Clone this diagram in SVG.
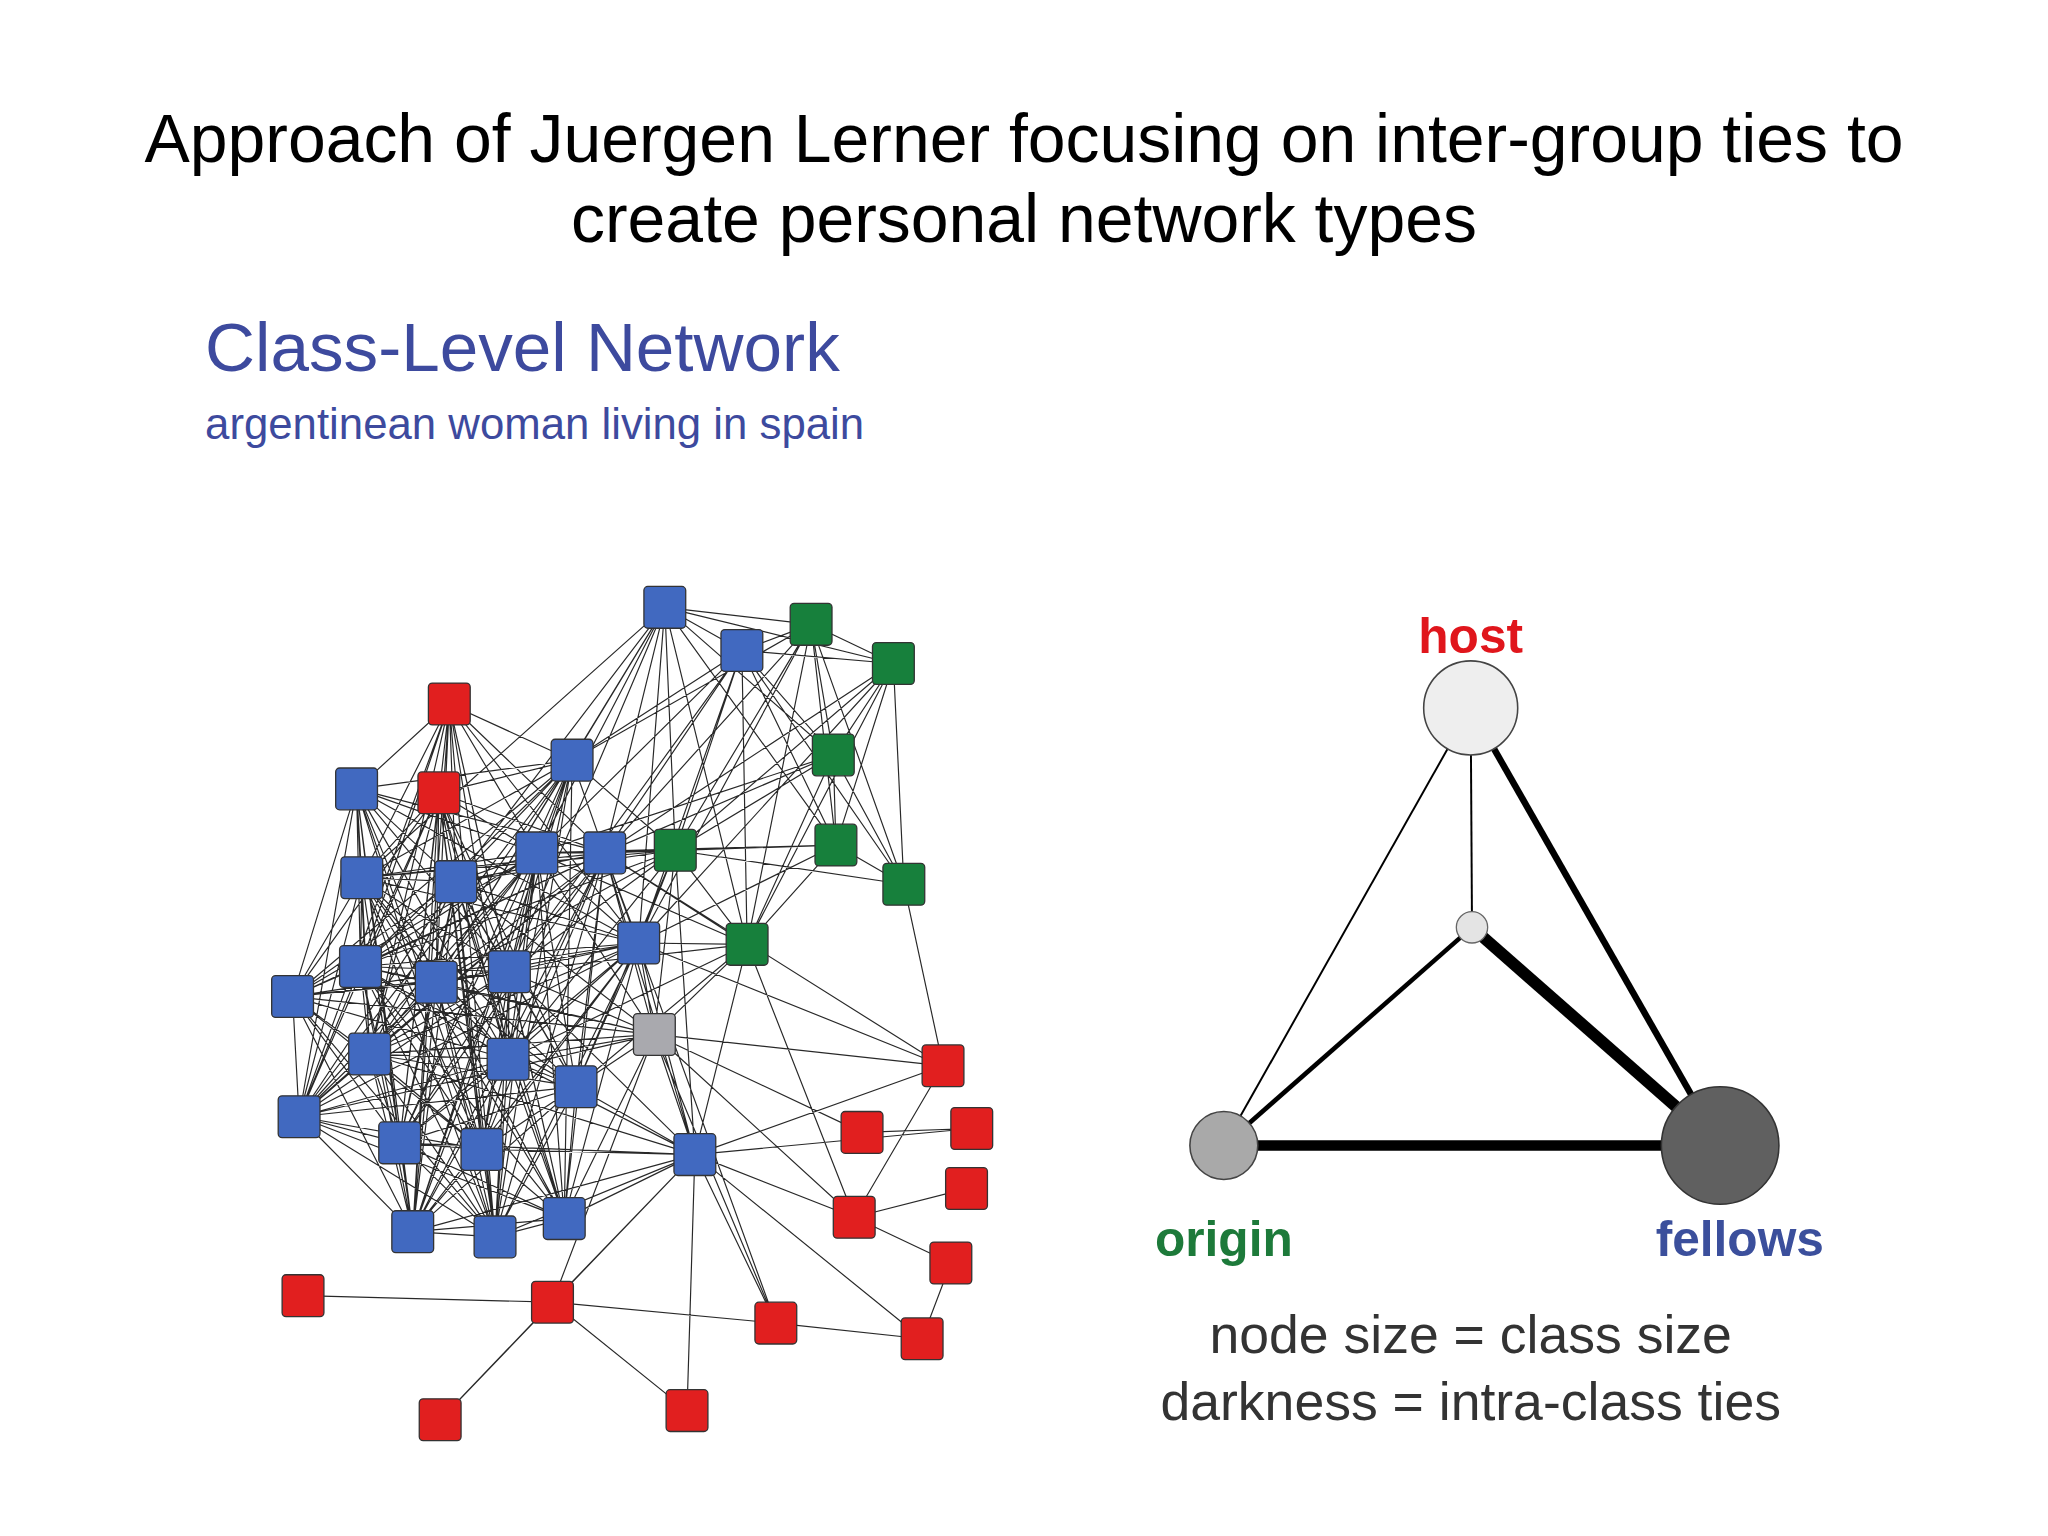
<svg xmlns="http://www.w3.org/2000/svg" width="2048" height="1536" viewBox="0 0 2048 1536">
<style>
.t{font-family:"Liberation Sans",Arial,sans-serif}
.b rect,.g rect,.r rect,.x rect{width:32px;height:32px;rx:3px;stroke:#333;stroke-width:1}
.b rect{fill:#4169c0}.g rect{fill:#17803c}.r rect{fill:#e11f1f}.x rect{fill:#a9a9ae}
.e{fill:none;stroke:#111;stroke-width:0.9;stroke-opacity:0.9}
</style>
<rect width="2048" height="1536" fill="#fff"/>
<g transform="scale(1.30612)">
<g id="title" class="t" font-size="52" text-anchor="middle" fill="#000">
<text x="784" y="124">Approach of Juergen Lerner focusing on inter-group ties to</text>
<text x="784" y="185">create personal network types</text>
</g>
<g id="heading" class="t" fill="#3d4a9e">
<text x="157" y="284" font-size="53">Class-Level Network</text>
<text x="157" y="336" font-size="33.5">argentinean woman living in spain</text>
</g>
<g id="connectors">
<path class="e" d="
M344 539L438 582M344 539L273 604M344 539L411 653M344 539L463 653M344 539L277 672M344 539L349 675M344 539L276 740M344 539L334 752M344 539L390 744M344 539L283 807M344 539L389 811M344 539L229 855M344 539L306 875M344 539L316 943M344 539L379 947M344 539L432 933M344 539L489 722
M336 607L438 582M336 607L411 653M336 607L463 653M336 607L277 672M336 607L349 675M336 607L276 740M336 607L334 752M336 607L390 744M336 607L224 763M336 607L283 807M336 607L389 811M336 607L441 832M336 607L229 855M336 607L306 875M336 607L369 880M336 607L316 943M336 607L379 947M336 607L432 933
M273 604L438 582M273 604L411 653M273 604L463 653M273 604L277 672M273 604L349 675M273 604L276 740M273 604L334 752M273 604L390 744M273 604L224 763M273 604L283 807M273 604L389 811M273 604L229 855M273 604L306 875M273 604L369 880M273 604L316 943M273 604L379 947M273 604L489 722
M438 582L509 465M438 582L568 498M438 582L621 478M438 582L517 651M438 582L411 653M438 582L463 653M438 582L277 672M438 582L349 675M438 582L276 740M438 582L334 752M438 582L390 744M438 582L224 763M438 582L283 807M438 582L389 811M438 582L229 855M438 582L306 875M438 582L316 943M438 582L379 947M438 582L432 933
M509 465L568 498M509 465L621 478M509 465L684 508M509 465L638 578M509 465L517 651M509 465L640 647M509 465L411 653M509 465L463 653M509 465L349 675M509 465L489 722M509 465L390 744M509 465L334 752M509 465L572 723M509 465L277 672
M568 498L621 478M568 498L684 508M568 498L638 578M568 498L517 651M568 498L640 647M568 498L692 677M568 498L463 653M568 498L489 722M568 498L572 723M568 498L411 653M568 498L390 744
M621 478L684 508M621 478L638 578M621 478L640 647M621 478L692 677M621 478L463 653M621 478L517 651M621 478L572 723M621 478L489 722
M684 508L638 578M684 508L640 647M684 508L692 677M684 508L517 651M684 508L463 653M684 508L489 722M684 508L572 723
M638 578L640 647M638 578L692 677M638 578L517 651M638 578L463 653M638 578L411 653M638 578L572 723
M517 651L640 647M517 651L692 677M517 651L572 723M517 651L411 653M517 651L463 653M517 651L349 675M517 651L489 722M517 651L390 744M517 651L277 672M517 651L334 752M517 651L276 740M517 651L389 811M517 651L441 832M517 651L501 792M517 651L532 884
M640 647L692 677M640 647L572 723M640 647L463 653M640 647L411 653M640 647L489 722
M572 723L489 722M572 723L463 653M572 723L411 653M572 723L390 744M572 723L441 832M572 723L501 792M572 723L532 884M572 723L389 811M572 723L654 932
M411 653L463 653M411 653L277 672M411 653L349 675M411 653L489 722M411 653L276 740M411 653L334 752M411 653L390 744M411 653L224 763M411 653L283 807M411 653L389 811M411 653L441 832M411 653L229 855M411 653L306 875M411 653L369 880M411 653L316 943M411 653L379 947M411 653L432 933M411 653L501 792
M463 653L277 672M463 653L349 675M463 653L489 722M463 653L276 740M463 653L334 752M463 653L390 744M463 653L224 763M463 653L283 807M463 653L389 811M463 653L441 832M463 653L229 855M463 653L306 875M463 653L369 880M463 653L316 943M463 653L379 947M463 653L432 933M463 653L501 792M463 653L532 884M463 653L722 816M463 653L594 1013
M277 672L349 675M277 672L489 722M277 672L276 740M277 672L334 752M277 672L390 744M277 672L224 763M277 672L283 807M277 672L389 811M277 672L441 832M277 672L229 855M277 672L306 875M277 672L369 880M277 672L316 943M277 672L379 947M277 672L432 933
M349 675L489 722M349 675L276 740M349 675L334 752M349 675L390 744M349 675L224 763M349 675L283 807M349 675L389 811M349 675L441 832M349 675L229 855M349 675L306 875M349 675L369 880M349 675L316 943M349 675L379 947M349 675L432 933M349 675L501 792
M489 722L276 740M489 722L334 752M489 722L390 744M489 722L224 763M489 722L283 807M489 722L389 811M489 722L441 832M489 722L229 855M489 722L306 875M489 722L369 880M489 722L316 943M489 722L379 947M489 722L432 933M489 722L501 792M489 722L532 884M489 722L722 816
M276 740L334 752M276 740L390 744M276 740L224 763M276 740L283 807M276 740L389 811M276 740L441 832M276 740L229 855M276 740L306 875M276 740L369 880M276 740L316 943M276 740L379 947M276 740L432 933
M334 752L390 744M334 752L224 763M334 752L283 807M334 752L389 811M334 752L441 832M334 752L229 855M334 752L306 875M334 752L369 880M334 752L316 943M334 752L379 947M334 752L432 933M334 752L501 792
M390 744L224 763M390 744L283 807M390 744L389 811M390 744L441 832M390 744L229 855M390 744L306 875M390 744L369 880M390 744L316 943M390 744L379 947M390 744L432 933M390 744L501 792M390 744L532 884
M224 763L283 807M224 763L389 811M224 763L229 855M224 763L306 875M224 763L369 880M224 763L316 943M224 763L379 947
M283 807L389 811M283 807L441 832M283 807L229 855M283 807L306 875M283 807L369 880M283 807L316 943M283 807L379 947M283 807L432 933M283 807L501 792M283 807L532 884
M389 811L441 832M389 811L229 855M389 811L306 875M389 811L369 880M389 811L316 943M389 811L379 947M389 811L432 933M389 811L501 792M389 811L532 884
M441 832L229 855M441 832L306 875M441 832L369 880M441 832L316 943M441 832L379 947M441 832L432 933M441 832L501 792M441 832L532 884
M229 855L306 875M229 855L369 880M229 855L316 943M229 855L379 947M229 855L432 933
M306 875L369 880M306 875L316 943M306 875L379 947M306 875L432 933M306 875L532 884
M369 880L316 943M369 880L379 947M369 880L432 933M369 880L532 884
M316 943L379 947M316 943L432 933M316 943L532 884M379 947L432 933M379 947L532 884M432 933L532 884M432 933L501 792
M501 792L532 884M501 792L722 816M501 792L660 867M501 792L654 932M501 792L423 997M501 792L594 1013M501 792L224 763M501 792L229 855M501 792L276 740
M532 884L722 816M532 884L654 932M532 884L423 997M532 884L594 1013M532 884L706 1025M532 884L337 1087M532 884L526 1080M532 884L744 864
M722 816L654 932M722 816L692 677M660 867L744 864M740 910L654 932M654 932L728 967M728 967L706 1025M594 1013L706 1025M423 997L594 1013M423 997L526 1080M423 997L337 1087M423 997L232 992
"/>
</g>
<g id="nodes-blue" class="b">
<rect x="493" y="449"/><rect x="552" y="482"/><rect x="422" y="566"/><rect x="257" y="588"/><rect x="395" y="637"/><rect x="447" y="637"/><rect x="261" y="656"/><rect x="333" y="659"/><rect x="473" y="706"/><rect x="260" y="724"/><rect x="318" y="736"/><rect x="374" y="728"/><rect x="208" y="747"/><rect x="267" y="791"/><rect x="373" y="795"/><rect x="425" y="816"/><rect x="213" y="839"/><rect x="290" y="859"/><rect x="353" y="864"/><rect x="516" y="868"/><rect x="300" y="927"/><rect x="363" y="931"/><rect x="416" y="917"/>
</g>
<g id="nodes-green" class="g">
<rect x="605" y="462"/><rect x="668" y="492"/><rect x="622" y="562"/><rect x="501" y="635"/><rect x="624" y="631"/><rect x="676" y="661"/><rect x="556" y="707"/>
</g>
<g id="nodes-red" class="r">
<rect x="328" y="523"/><rect x="320" y="591"/><rect x="706" y="800"/><rect x="728" y="848"/><rect x="644" y="851"/><rect x="724" y="894"/><rect x="638" y="916"/><rect x="712" y="951"/><rect x="216" y="976"/><rect x="407" y="981"/><rect x="578" y="997"/><rect x="690" y="1009"/><rect x="321" y="1071"/><rect x="510" y="1064"/>
</g>
<g id="node-gray" class="x"><rect x="485" y="776"/></g>
<g id="triangle-edges" stroke="#000" fill="none">
<line x1="1126" y1="542" x2="937" y2="877" stroke-width="1.5"/>
<line x1="1126" y1="542" x2="1127" y2="710" stroke-width="1.5"/>
<line x1="1126" y1="542" x2="1317" y2="877" stroke-width="5"/>
<line x1="1127" y1="710" x2="937" y2="877" stroke-width="3.5"/>
<line x1="1127" y1="710" x2="1317" y2="877" stroke-width="9"/>
<line x1="937" y1="877" x2="1317" y2="877" stroke-width="8"/>
</g>
<g id="host"><circle cx="1126" cy="542" r="36" fill="#eeeeee" stroke="#444" stroke-width="1.2"/>
<text class="t" x="1126" y="500" font-size="38" font-weight="bold" fill="#e0161c" text-anchor="middle">host</text></g>
<g id="center"><circle cx="1127" cy="710" r="12" fill="#e4e4e4" stroke="#666" stroke-width="1"/></g>
<g id="origin"><circle cx="937" cy="877" r="26" fill="#a9a9a9" stroke="#444" stroke-width="1.2"/>
<text class="t" x="937" y="962" font-size="38" font-weight="bold" fill="#1d7a3a" text-anchor="middle">origin</text></g>
<g id="fellows"><circle cx="1317" cy="877" r="45" fill="#606060" stroke="#333" stroke-width="1.2"/>
<text class="t" x="1332" y="962" font-size="38" font-weight="bold" fill="#3b4f9c" text-anchor="middle">fellows</text></g>
<g id="legend" class="t" font-size="41" fill="#333" text-anchor="middle">
<text x="1126" y="1036">node size = class size</text>
<text x="1126" y="1087">darkness = intra-class ties</text>
</g>
</g>
</svg>
